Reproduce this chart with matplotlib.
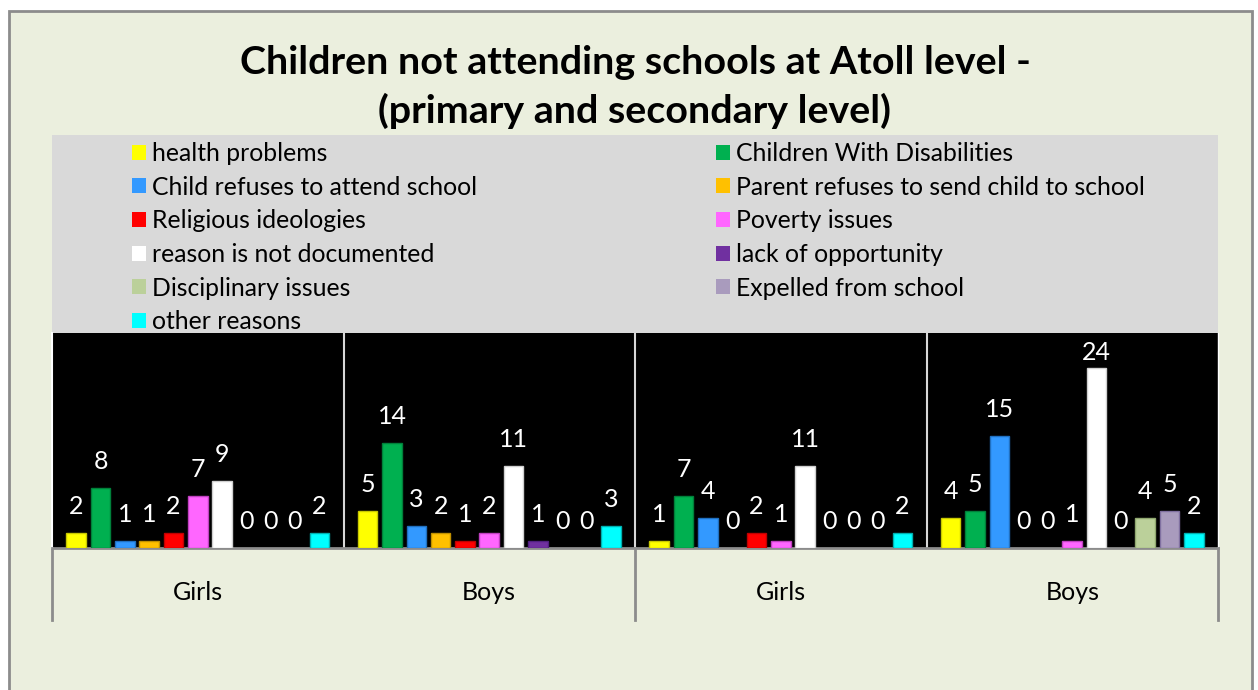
import matplotlib.pyplot as plt
from matplotlib.patches import Rectangle

# categories along the x axis
groups = ["Girls", "Boys", "Girls", "Boys"]

# reasons (legend order) and their values for each group
reasons = [
    "health problems",
    "Children With Disabilities",
    "Child refuses to attend school",
    "Parent refuses to send child to school",
    "Religious ideologies",
    "Poverty issues",
    "reason is not documented",
    "lack of opportunity",
    "Disciplinary issues",
    "Expelled from school",
    "other reasons",
]
health = [2, 5, 1, 4]
disabilities = [8, 14, 7, 5]
child_refuses = [1, 3, 4, 15]
parent_refuses = [1, 2, 0, 0]
religious = [2, 1, 2, 0]
poverty = [7, 2, 1, 1]
not_documented = [9, 11, 11, 24]
lack_opportunity = [0, 1, 0, 0]
disciplinary = [0, 0, 0, 4]
expelled = [0, 0, 0, 5]
other = [2, 3, 2, 2]

series = [health, disabilities, child_refuses, parent_refuses, religious,
          poverty, not_documented, lack_opportunity, disciplinary, expelled, other]
colors = ["#FFFF00", "#00B050", "#3399FF", "#FFC000", "#FF0000", "#FF66FF",
          "#FFFFFF", "#7030A0", "#BBD09A", "#A99BBD", "#00FFFF"]
edges = ["#C8C800", "#00803A", "#2070C0", "#C09000", "#C00000", "#C040C0",
         "#D0D0D0", "#502080", "#90A870", "#8070A0", "#00B0B0"]

W, H = 1258, 690
plt.rcParams["font.family"] = ["Lato", "DejaVu Sans"]

fig = plt.figure(figsize=(W / 100, H / 100), dpi=100)
fig.patch.set_facecolor("white")

# chart area background and border
fig.patches.append(Rectangle((9 / W, -0.01), (1243 / W), (H - 11) / H + 0.01,
                             transform=fig.transFigure, facecolor="#EBEFDE",
                             edgecolor="#8C8C8C", linewidth=2, zorder=-2))
# grey legend box
fig.patches.append(Rectangle((52 / W, 1 - 333 / H), (1218 - 52) / W, (333 - 135) / H,
                             transform=fig.transFigure, facecolor="#D9D9D9",
                             edgecolor="none", zorder=-1))

fig.text(635 / W, 1 - 62 / H, "Children not attending schools at Atoll level -",
         ha="center", va="center", fontsize=28.4, fontweight="bold")
fig.text(635 / W, 1 - 111 / H, "(primary and secondary level)",
         ha="center", va="center", fontsize=28.4, fontweight="bold")

ax = fig.add_axes([52 / W, 1 - 548 / H, (1218 - 52) / W, (548 - 333) / H])
ax.set_facecolor("black")

ymax = 28.7
pitch = 0.0834
width = 0.067
handles = []
for j, (vals, c, ec, name) in enumerate(zip(series, colors, edges, reasons)):
    xs = [g + (j - 5) * pitch for g in range(len(groups))]
    lws = [1 if v else 0 for v in vals]
    b = ax.bar(xs, vals, width=width, color=c, edgecolor=ec, linewidth=lws,
               label=name, zorder=3)
    handles.append(b)

ax.set_xlim(-0.5, len(groups) - 0.5)
ax.set_ylim(0, ymax)

# data labels
px_per_unit = 215 / ymax
for j, vals in enumerate(series):
    for g, v in enumerate(vals):
        x = g + (j - 5) * pitch
        y = min(v + 19 / px_per_unit, ymax - 27 / px_per_unit)
        ax.text(x, y, str(v), ha="center", va="baseline", color="white",
                fontsize=18, zorder=4)

# group separators inside the plot
for s in [0.5, 1.5, 2.5]:
    ax.axvline(s, color="#D8D8D8", linewidth=1.5, zorder=2)

ax.set_yticks([])
ax.set_xticks(range(len(groups)))
ax.set_xticklabels(groups, fontsize=18)
ax.tick_params(axis="x", length=0, pad=24, colors="black")

ax.spines["top"].set_visible(False)
ax.spines["left"].set_color("white")
ax.spines["left"].set_linewidth(1.5)
ax.spines["right"].set_color("white")
ax.spines["right"].set_linewidth(1)
ax.spines["bottom"].set_color("#8C8C8C")
ax.spines["bottom"].set_linewidth(2)

# multi-level axis tick lines below the plot
for s in [-0.5, 1.5, 3.5]:
    ax.plot([s, s], [0, -72 / 215], transform=ax.get_xaxis_transform(),
            color="#8C8C8C", linewidth=2, clip_on=False)

# legend in two columns, row-major order
leg_kw = dict(frameon=False, fontsize=17.8, handlelength=0.56, handleheight=0.56,
              handletextpad=0.25, labelspacing=0.43, borderpad=0, borderaxespad=0,
              loc="upper left")
col1 = [0, 2, 4, 6, 8, 10]
col2 = [1, 3, 5, 7, 9]
leg1 = fig.legend([handles[i] for i in col1], [reasons[i] for i in col1],
                  bbox_to_anchor=(132 / W, 1 - 142 / H), **leg_kw)
leg2 = fig.legend([handles[i] for i in col2], [reasons[i] for i in col2],
                  bbox_to_anchor=(716 / W, 1 - 142 / H), **leg_kw)
for leg in (leg1, leg2):
    for p in leg.get_patches():
        p.set_edgecolor("none")
        p.set_linewidth(0)

fig.savefig("out.png", dpi=100)
